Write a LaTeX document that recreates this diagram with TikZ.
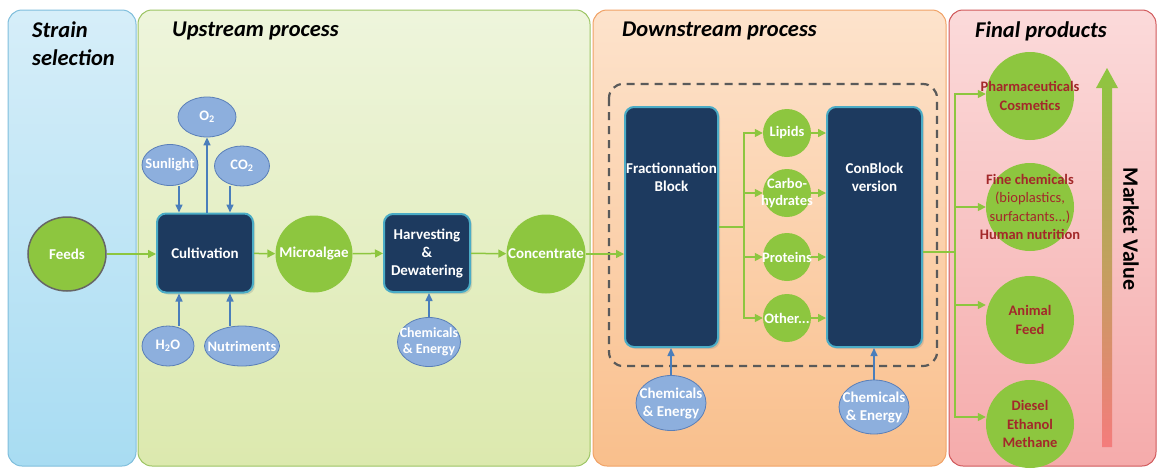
\documentclass[tikz,border=0pt]{standalone}
\usepackage{fontspec}
\setmainfont{Carlito}
\usetikzlibrary{arrows.meta,shapes.geometric,shadows}
\definecolor{gr}{HTML}{8DC63F}
\definecolor{navy}{HTML}{1D3A5F}
\definecolor{cyanb}{HTML}{4BACC6}
\definecolor{ellf}{HTML}{8DAFDD}
\definecolor{ellb}{HTML}{5A7FB8}
\definecolor{barc}{HTML}{4A7EBB}
\definecolor{prod}{HTML}{A3282A}
\definecolor{dashc}{HTML}{5A5A5A}
\definecolor{p1t}{HTML}{D6EEF9}\definecolor{p1b}{HTML}{A8DCF2}\definecolor{p1d}{HTML}{7FBEDC}
\definecolor{p2t}{HTML}{EEF5DC}\definecolor{p2b}{HTML}{DCE9AE}\definecolor{p2d}{HTML}{9CC463}
\definecolor{p3t}{HTML}{FDE3CC}\definecolor{p3b}{HTML}{F9BF8C}\definecolor{p3d}{HTML}{F0A266}
\definecolor{p4t}{HTML}{FBDADA}\definecolor{p4b}{HTML}{F5ABAB}\definecolor{p4d}{HTML}{D0585A}
\definecolor{mvb}{HTML}{F47C7C}
\begin{document}
\begin{tikzpicture}[x=1pt,y=-1pt,
  panel/.style={rounded corners=14pt, line width=1pt},
  ptitle/.style={font=\fontsize{22.5}{28}\selectfont\bfseries\itshape, anchor=north west, align=left, inner sep=0pt},
  box/.style={draw=cyanb, line width=2pt, fill=navy, rounded corners=9pt, text=white,
     font=\fontsize{15}{18}\selectfont\bfseries, align=center, inner sep=0pt,
     drop shadow={shadow xshift=2pt, shadow yshift=-2pt, opacity=0.25}},
  boxt/.style={label={[anchor=north, text=white, font=\fontsize{15}{18}\selectfont\bfseries, align=center, yshift=-53pt]north:#1}},
  gcirc/.style={circle, fill=gr, inner sep=0pt},
  gt/.style={label={[text=white, font=\fontsize{15}{18}\selectfont\bfseries, align=center]center:#1}},
  scirc/.style={circle, fill=gr, inner sep=0pt, minimum size=48pt},
  st/.style={label={[text=white, font=\fontsize{14.5}{17}\selectfont\bfseries, align=center]center:#1}},
  pcirc/.style={circle, fill=gr, inner sep=0pt, minimum size=88pt},
  pt/.style={label={[text=prod, font=\fontsize{14.5}{18.5}\selectfont\bfseries, align=center]center:#1}},
  bell/.style={ellipse, draw=ellb, fill=ellf, line width=0.8pt, inner sep=0pt},
  bt/.style={label={[text=white, font=\fontsize{14.5}{17}\selectfont\bfseries, align=center]center:#1}},
  ct/.style={label={[text=white, font=\fontsize{15}{18}\selectfont\bfseries, align=center]center:#1}},
  cts/.style={label={[text=white, font=\fontsize{14}{16.5}\selectfont\bfseries, align=center]center:#1}},
  garrow/.style={draw=gr, line width=1.5pt, -{Triangle[length=8pt,width=8pt]}},
  gline/.style={draw=gr, line width=1.5pt},
  barrow/.style={draw=barc, line width=1.5pt, -{Triangle[length=8pt,width=7pt]}},
  dashbox/.style={draw=dashc, line width=2.2pt, dash pattern=on 8pt off 6pt, rounded corners=14pt}
]
\useasboundingbox (0,0) rectangle (1158,469);
% panels
\shadedraw[panel, top color=p1t, bottom color=p1b, draw=p1d] (8,10) rectangle (136,466);
\shadedraw[panel, top color=p2t, bottom color=p2b, draw=p2d] (138,10) rectangle (590,466);
\shadedraw[panel, top color=p3t, bottom color=p3b, draw=p3d] (593,10) rectangle (946,466);
\shadedraw[panel, top color=p4t, bottom color=p4b, draw=p4d] (949,10) rectangle (1156,466);
% titles
\node[ptitle] (t1) at (32,22) {Strain\\selection};
\node[ptitle] (t2) at (172,22) {Upstream process};
\node[ptitle] (t3) at (622,22) {Downstream process};
\node[ptitle] (t4) at (975,22) {Final products};
% upstream nodes
\node[gcirc, ellipse, draw=darkgray!80, line width=1.5pt, minimum width=78pt, minimum height=74pt, gt={Feeds}] (feeds) at (67,254) {};
\node[box, minimum width=96pt, minimum height=79pt] (cult) at (205,253) {Cultivation};
\node[bell, minimum width=58pt, minimum height=40pt, bt={O\textsubscript{2}}] (o2) at (207,117) {};
\node[bell, minimum width=56pt, minimum height=41pt, bt={Sunlight}] (sun) at (170,165) {};
\node[bell, minimum width=55pt, minimum height=40pt, bt={CO\textsubscript{2}}] (co2) at (242,166) {};
\node[bell, minimum width=52pt, minimum height=40pt, bt={H\textsubscript{2}O}] (h2o) at (168,346) {};
\node[bell, minimum width=75pt, minimum height=40pt, bt={Nutriments}] (nut) at (242,346) {};
\node[gcirc, minimum size=77pt, gt={Microalgae}] (micro) at (314,254) {};
\node[box, minimum width=86pt, minimum height=78pt] (harv) at (427,253) {Harvesting\\\&\\Dewatering};
\node[bell, minimum width=63pt, minimum height=49pt, cts={Chemicals\\\& Energy}] (chem1) at (429,342) {};
\node[gcirc, minimum size=79pt, gt={Concentrate}] (conc) at (546,254) {};
% downstream
\draw[dashbox] (609,84) rectangle (937,366);
\node[box, minimum width=93pt, minimum height=240pt, boxt={Fractionnation\\Block}] (frac) at (671.5,227) {};
\node[box, minimum width=95pt, minimum height=240pt, boxt={ConBlock\\version}] (conb) at (874.5,227) {};
\node[scirc, st={Lipids}] (lip) at (787,133) {};
\node[scirc, st={Carbo-\\hydrates}] (carb) at (787,193) {};
\node[scirc, st={Proteins}] (prot) at (787,257) {};
\node[scirc, st={Other...}] (oth) at (787,318) {};
\node[bell, minimum width=70pt, minimum height=55pt, ct={Chemicals\\\& Energy}] (chem2) at (671,403) {};
\node[bell, minimum width=70pt, minimum height=54pt, ct={Chemicals\\\& Energy}] (chem3) at (874,407) {};
% final products
\node[pcirc, pt={Pharmaceuticals\\Cosmetics}] (p1) at (1030,96) {};
\node[pcirc, pt={Fine chemicals\\{\mdseries(bioplastics,}\\{\mdseries surfactants...)}\\Human nutrition}] (p2) at (1030,207) {};
\node[pcirc, pt={Animal\\Feed}] (p3) at (1030,320) {};
\node[pcirc, pt={Diesel\\Ethanol\\Methane}] (p4) at (1030,424) {};
\shade[top color=gr, bottom color=mvb] (1102,447) -- (1102,88) -- (1096,88) -- (1107,68) -- (1118,88) -- (1112,88) -- (1112,447) -- cycle;
\node[rotate=-90, font=\fontsize{22}{24}\selectfont\bfseries] (mv) at (1131,229) {Market Value};
% connectors upstream
\draw[garrow] (feeds) -- (feeds -| cult.west);
\draw[garrow] (cult) -- (micro);
\draw[garrow] (micro) -- (harv);
\draw[garrow] (harv) -- (conc);
\draw[garrow] (conc) -- (conc -| frac.west);
\draw[barrow] ([xshift=-26pt]cult.north |- sun.south) -- ([xshift=-26pt]cult.north);
\draw[barrow] ([xshift=25pt]cult.north |- co2.south) -- ([xshift=25pt]cult.north);
\draw[barrow] (cult.north -| o2) -- (o2.south);
\draw[barrow] ([xshift=-26pt]cult.south |- h2o.north) -- ([xshift=-26pt]cult.south);
\draw[barrow] ([xshift=25pt]cult.south |- nut.north) -- ([xshift=25pt]cult.south);
\draw[barrow] (chem1.north) -- (chem1.north |- harv.south);
% downstream connectors
\coordinate (br) at (744,227);
\draw[gline] (frac.east) -- (br);
\draw[garrow] (br) |- (lip.west);
\draw[garrow] (br) |- (carb.west);
\draw[garrow] (br) |- (prot.west);
\draw[garrow] (br) |- (oth.west);
\draw[garrow] (lip) -- (lip -| conb.west);
\draw[garrow] (carb) -- (carb -| conb.west);
\draw[garrow] (prot) -- (prot -| conb.west);
\draw[garrow] (oth) -- (oth -| conb.west);
\draw[barrow] (chem2.north) -- (chem2.north |- frac.south);
\draw[barrow] (chem3.north) -- (chem3.north |- conb.south);
% to final products
\coordinate (pj) at (955,252);
\draw[gline] ([yshift=-25pt]conb.east) -- (pj);
\draw[garrow] (pj) |- ([yshift=2pt]p1.west);
\draw[garrow] (pj) |- (p2.west);
\draw[garrow] (pj) |- ([yshift=15pt]p3.west);
\draw[garrow] (pj) |- ([yshift=7pt]p4.west);
\end{tikzpicture}
\end{document}
